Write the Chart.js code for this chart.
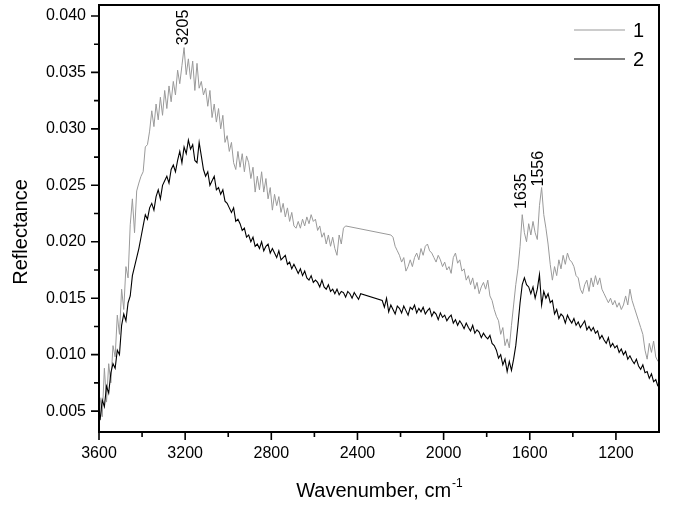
<!DOCTYPE html>
<html>
<head>
<meta charset="utf-8">
<script src="https://cdn.jsdelivr.net/npm/chart.js@4.4.0/dist/chart.umd.min.js"></script>
<style>
html, body { margin: 0; padding: 0; background: #fff; }
</style>
</head>
<body>
<canvas id="grafico" width="675" height="506"></canvas>
<script>
// Numero de onda (cm-1), de 3595 a 1005
const numeroOnda = [
    3595, 3585, 3575, 3565, 3555, 3545, 3535, 3525, 3515, 3505,
    3495, 3485, 3475, 3465, 3455, 3445, 3435, 3425, 3415, 3405,
    3395, 3385, 3375, 3365, 3355, 3345, 3335, 3325, 3315, 3305,
    3295, 3285, 3275, 3265, 3255, 3245, 3235, 3225, 3215, 3205,
    3195, 3185, 3175, 3165, 3155, 3145, 3135, 3125, 3115, 3105,
    3095, 3085, 3075, 3065, 3055, 3045, 3035, 3025, 3015, 3005,
    2995, 2985, 2975, 2965, 2955, 2945, 2935, 2925, 2915, 2905,
    2895, 2885, 2875, 2865, 2855, 2845, 2835, 2825, 2815, 2805,
    2795, 2785, 2775, 2765, 2755, 2745, 2735, 2725, 2715, 2705,
    2695, 2685, 2675, 2665, 2655, 2645, 2635, 2625, 2615, 2605,
    2595, 2585, 2575, 2565, 2555, 2545, 2535, 2525, 2515, 2505,
    2495, 2485, 2475, 2465, 2455, 2445, 2435, 2425, 2415, 2405,
    2395, 2385, 2375, 2365, 2355, 2345, 2335, 2325, 2315, 2305,
    2295, 2285, 2275, 2265, 2255, 2245, 2235, 2225, 2215, 2205,
    2195, 2185, 2175, 2165, 2155, 2145, 2135, 2125, 2115, 2105,
    2095, 2085, 2075, 2065, 2055, 2045, 2035, 2025, 2015, 2005,
    1995, 1985, 1975, 1965, 1955, 1945, 1935, 1925, 1915, 1905,
    1895, 1885, 1875, 1865, 1855, 1845, 1835, 1825, 1815, 1805,
    1795, 1785, 1775, 1765, 1755, 1745, 1735, 1725, 1715, 1705,
    1695, 1685, 1675, 1665, 1655, 1645, 1635, 1625, 1615, 1605,
    1595, 1585, 1575, 1565, 1555, 1545, 1535, 1525, 1515, 1505,
    1495, 1485, 1475, 1465, 1455, 1445, 1435, 1425, 1415, 1405,
    1395, 1385, 1375, 1365, 1355, 1345, 1335, 1325, 1315, 1305,
    1295, 1285, 1275, 1265, 1255, 1245, 1235, 1225, 1215, 1205,
    1195, 1185, 1175, 1165, 1155, 1145, 1135, 1125, 1115, 1105,
    1095, 1085, 1075, 1065, 1055, 1045, 1035, 1025, 1015, 1005
];

// Curva 1 (gris) - null = sin datos (tramo recto)
const serie1 = [
    0.0062, 0.0045, 0.0088, 0.0058, 0.0092, 0.0075, 0.0108, 0.0098, 0.0135, 0.0118,
    0.0158, 0.0140, 0.0178, 0.0168, 0.0215, 0.0238, 0.0208, 0.0245, 0.0252, 0.0258,
    0.0262, 0.0284, 0.0286, 0.0298, 0.0316, 0.0302, 0.0322, 0.0308, 0.0328, 0.0312,
    0.0334, 0.0318, 0.0338, 0.0324, 0.0342, 0.0330, 0.0352, 0.0340, 0.0356, 0.0372,
    0.0348, 0.0362, 0.0344, 0.0360, 0.0334, 0.0358, 0.0336, 0.0342, 0.0330, 0.0336,
    0.0320, 0.0334, 0.0310, 0.0322, 0.0306, 0.0318, 0.0300, 0.0312, 0.0288, 0.0294,
    0.0280, 0.0288, 0.0270, 0.0264, 0.0280, 0.0266, 0.0278, 0.0262, 0.0276, 0.0270,
    0.0256, 0.0266, 0.0244, 0.0258, 0.0246, 0.0262, 0.0244, 0.0256, 0.0238, 0.0248,
    0.0228, 0.0242, 0.0232, 0.0240, 0.0226, 0.0234, 0.0222, 0.0230, 0.0218, 0.0226,
    0.0214, 0.0212, 0.0218, 0.0212, 0.0220, 0.0214, 0.0222, 0.0216, 0.0224, 0.0218,
    0.0220, 0.0210, 0.0214, 0.0204, 0.0208, 0.0198, 0.0206, 0.0196, 0.0204, 0.0194,
    0.0188, 0.0206, 0.0198, 0.0212, 0.0214, null, null, null, null, null,
    null, null, null, null, null, null, null, null, null, null,
    null, null, null, null, null, 0.0206, 0.0204, 0.0196, 0.0192, 0.0188,
    0.0182, 0.0186, 0.0174, 0.0178, 0.0184, 0.0178, 0.0186, 0.0190, 0.0184, 0.0194,
    0.0188, 0.0196, 0.0198, 0.0192, 0.0190, 0.0186, 0.0182, 0.0188, 0.0184, 0.0178,
    0.0182, 0.0175, 0.0178, 0.0172, 0.0186, 0.0190, 0.0181, 0.0184, 0.0174, 0.0176,
    0.0166, 0.0170, 0.0162, 0.0168, 0.0158, 0.0164, 0.0154, 0.0160, 0.0164, 0.0158,
    0.0166, 0.0152, 0.0148, 0.0140, 0.0134, 0.0130, 0.0118, 0.0124, 0.0108, 0.0114,
    0.0106, 0.0126, 0.0144, 0.0162, 0.0176, 0.0196, 0.0224, 0.0208, 0.0200, 0.0216,
    0.0206, 0.0218, 0.0208, 0.0202, 0.0232, 0.0248, 0.0224, 0.0212, 0.0198, 0.0180,
    0.0166, 0.0178, 0.0170, 0.0184, 0.0176, 0.0188, 0.0180, 0.0190, 0.0184, 0.0182,
    0.0178, 0.0170, 0.0168, 0.0158, 0.0154, 0.0162, 0.0166, 0.0156, 0.0168, 0.0160,
    0.0170, 0.0162, 0.0168, 0.0158, 0.0154, 0.0150, 0.0146, 0.0150, 0.0144, 0.0148,
    0.0142, 0.0146, 0.0140, 0.0144, 0.0152, 0.0144, 0.0158, 0.0148, 0.0142, 0.0136,
    0.0130, 0.0124, 0.0118, 0.0104, 0.0096, 0.0110, 0.0102, 0.0112, 0.0098, 0.0094
];

// Curva 2 (negra)
const serie2 = [
    0.0042, 0.0060, 0.0054, 0.0072, 0.0066, 0.0084, 0.0092, 0.0088, 0.0104, 0.0100,
    0.0126, 0.0136, 0.0130, 0.0146, 0.0152, 0.0170, 0.0178, 0.0186, 0.0194, 0.0204,
    0.0214, 0.0224, 0.0220, 0.0230, 0.0234, 0.0228, 0.0240, 0.0246, 0.0238, 0.0250,
    0.0254, 0.0258, 0.0252, 0.0264, 0.0268, 0.0262, 0.0272, 0.0280, 0.0270, 0.0284,
    0.0278, 0.0290, 0.0282, 0.0286, 0.0272, 0.0270, 0.0288, 0.0276, 0.0264, 0.0258,
    0.0262, 0.0250, 0.0254, 0.0258, 0.0246, 0.0248, 0.0242, 0.0246, 0.0236, 0.0234,
    0.0230, 0.0226, 0.0230, 0.0218, 0.0220, 0.0216, 0.0210, 0.0212, 0.0204, 0.0206,
    0.0200, 0.0204, 0.0196, 0.0198, 0.0194, 0.0200, 0.0192, 0.0196, 0.0198, 0.0190,
    0.0194, 0.0190, 0.0186, 0.0192, 0.0184, 0.0186, 0.0188, 0.0180, 0.0182, 0.0176,
    0.0180, 0.0176, 0.0172, 0.0176, 0.0170, 0.0174, 0.0168, 0.0166, 0.0170, 0.0164,
    0.0166, 0.0164, 0.0160, 0.0166, 0.0160, 0.0158, 0.0162, 0.0156, 0.0158, 0.0154,
    0.0158, 0.0153, 0.0156, 0.0155, 0.0151, 0.0156, 0.0154, 0.0150, 0.0155, 0.0152,
    0.0149, 0.0154, null, null, null, null, null, null, null, null,
    null, 0.0148, 0.0142, 0.0150, 0.0138, 0.0144, 0.0140, 0.0136, 0.0143, 0.0141,
    0.0137, 0.0143, 0.0139, 0.0135, 0.0142, 0.0140, 0.0144, 0.0137, 0.0141, 0.0138,
    0.0142, 0.0136, 0.0139, 0.0141, 0.0134, 0.0138, 0.0136, 0.0131, 0.0137, 0.0133,
    0.0135, 0.0130, 0.0133, 0.0135, 0.0128, 0.0131, 0.0126, 0.0130, 0.0127, 0.0123,
    0.0128, 0.0124, 0.0121, 0.0126, 0.0119, 0.0122, 0.0120, 0.0115, 0.0119, 0.0116,
    0.0114, 0.0117, 0.0110, 0.0108, 0.0104, 0.0097, 0.0100, 0.0091, 0.0096, 0.0085,
    0.0094, 0.0086, 0.0096, 0.0108, 0.0126, 0.0146, 0.0162, 0.0168, 0.0162, 0.0160,
    0.0154, 0.0160, 0.0150, 0.0158, 0.0171, 0.0144, 0.0156, 0.0150, 0.0154, 0.0146,
    0.0148, 0.0136, 0.0140, 0.0132, 0.0136, 0.0134, 0.0128, 0.0135, 0.0131, 0.0128,
    0.0132, 0.0126, 0.0129, 0.0124, 0.0127, 0.0130, 0.0122, 0.0125, 0.0121, 0.0124,
    0.0119, 0.0121, 0.0114, 0.0117, 0.0113, 0.0110, 0.0115, 0.0107, 0.0110, 0.0106,
    0.0108, 0.0102, 0.0105, 0.0100, 0.0103, 0.0096, 0.0099, 0.0095, 0.0092, 0.0096,
    0.0090, 0.0087, 0.0091, 0.0084, 0.0085, 0.0079, 0.0083, 0.0076, 0.0078, 0.0072
];

const nombresSerie = ['1', '2'];
const ticksX = [3600, 3200, 2800, 2400, 2000, 1600, 1200];
const ticksXMenores = [3400, 3000, 2600, 2200, 1800, 1400];
const ticksY = [0.005, 0.010, 0.015, 0.020, 0.025, 0.030, 0.035, 0.040];
const ticksYMenores = [0.0075, 0.0125, 0.0175, 0.0225, 0.0275, 0.0325, 0.0375];
// etiquetas de picos
const picosTexto = ['3205', '1635', '1556'];
const picosX = [3205, 1640, 1560];
const picosY = [0.0374, 0.0229, 0.0249];

const FUENTE = '"Liberation Sans", Arial, sans-serif';
const colores = ['#9a9a9a', '#000000'];

const puntos = (serie) => numeroOnda.map((w, i) => ({ x: w, y: serie[i] }));

// marco, marcas, leyenda, picos y titulos
const decoracion = {
    id: 'decoracion',
    afterDraw(chart) {
        const { ctx, chartArea: a, scales: { x, y } } = chart;
        ctx.save();
        ctx.strokeStyle = '#000';
        ctx.lineWidth = 2;
        ctx.strokeRect(a.left, a.top, a.right - a.left, a.bottom - a.top);

        ctx.lineWidth = 1.6;
        ctx.beginPath();
        ticksX.forEach(v => { const p = x.getPixelForValue(v); ctx.moveTo(p, a.bottom); ctx.lineTo(p, a.bottom + 8); });
        ticksXMenores.forEach(v => { const p = x.getPixelForValue(v); ctx.moveTo(p, a.bottom); ctx.lineTo(p, a.bottom + 5); });
        ticksY.forEach(v => { const p = y.getPixelForValue(v); ctx.moveTo(a.left, p); ctx.lineTo(a.left - 8, p); });
        ticksYMenores.forEach(v => { const p = y.getPixelForValue(v); ctx.moveTo(a.left, p); ctx.lineTo(a.left - 5, p); });
        ctx.stroke();

        // leyenda
        ctx.font = '20px ' + FUENTE;
        ctx.textBaseline = 'middle';
        ctx.textAlign = 'left';
        chart.data.datasets.forEach((ds, i) => {
            const yy = 30 + i * 29;
            ctx.strokeStyle = ds.borderColor;
            ctx.lineWidth = 1.2;
            ctx.beginPath();
            ctx.moveTo(574, yy);
            ctx.lineTo(625, yy);
            ctx.stroke();
            ctx.fillStyle = '#000';
            ctx.fillText(ds.label, 633, yy + 1);
        });

        // picos
        ctx.font = '16px ' + FUENTE;
        ctx.fillStyle = '#000';
        picosTexto.forEach((t, i) => {
            const px = x.getPixelForValue(picosX[i]);
            const py = y.getPixelForValue(picosY[i]);
            ctx.save();
            ctx.translate(px, py);
            ctx.rotate(-Math.PI / 2);
            ctx.textAlign = 'left';
            ctx.textBaseline = 'middle';
            ctx.fillText(t, 0, 0);
            ctx.restore();
        });

        // titulo eje X con superindice
        const base = 'Wavenumber, cm';
        const sup = '-1';
        ctx.font = '20px ' + FUENTE;
        const w1 = ctx.measureText(base).width;
        ctx.font = '12px ' + FUENTE;
        const w2 = ctx.measureText(sup).width;
        const cx = (a.left + a.right) / 2;
        const x0 = cx - (w1 + w2) / 2;
        ctx.textAlign = 'left';
        ctx.textBaseline = 'alphabetic';
        ctx.font = '20px ' + FUENTE;
        ctx.fillText(base, x0, 497);
        ctx.font = '12px ' + FUENTE;
        ctx.fillText(sup, x0 + w1 + 1, 487);

        // titulo eje Y
        ctx.font = '20px ' + FUENTE;
        ctx.save();
        ctx.translate(21, 232);
        ctx.rotate(-Math.PI / 2);
        ctx.textAlign = 'center';
        ctx.textBaseline = 'middle';
        ctx.fillText('Reflectance', 0, 0);
        ctx.restore();
        ctx.restore();
    }
};

new Chart(document.getElementById('grafico').getContext('2d'), {
    type: 'line',
    data: {
        datasets: [
            { label: nombresSerie[0], data: puntos(serie1), borderColor: colores[0], borderWidth: 1, pointRadius: 0, tension: 0, spanGaps: true, order: 1 },
            { label: nombresSerie[1], data: puntos(serie2), borderColor: colores[1], borderWidth: 1.1, pointRadius: 0, tension: 0, spanGaps: true, order: 0 }
        ]
    },
    options: {
        responsive: false,
        animation: false,
        layout: { padding: { left: 0, right: 16, top: 5, bottom: 0 } },
        plugins: { legend: { display: false }, tooltip: { enabled: false } },
        scales: {
            x: {
                type: 'linear',
                reverse: true,
                min: 1000,
                max: 3600,
                afterBuildTicks: (s) => { s.ticks = ticksX.map(v => ({ value: v })); },
                afterFit: (s) => { s.height = 74; s.paddingLeft = 0; s.paddingRight = 0; },
                grid: { display: false, drawTicks: false },
                border: { display: false },
                ticks: { color: '#000', padding: 12, maxRotation: 0, font: { family: FUENTE, size: 16 }, callback: (v) => String(v) }
            },
            y: {
                min: 0.00315,
                max: 0.04097,
                afterBuildTicks: (s) => { s.ticks = ticksY.map(v => ({ value: v })); },
                afterFit: (s) => { s.width = 99; s.paddingTop = 0; s.paddingBottom = 0; },
                grid: { display: false, drawTicks: false },
                border: { display: false },
                ticks: { color: '#000', padding: 13, font: { family: FUENTE, size: 16 }, callback: (v) => v.toFixed(3) }
            }
        }
    },
    plugins: [decoracion]
});
</script>
</body>
</html>
